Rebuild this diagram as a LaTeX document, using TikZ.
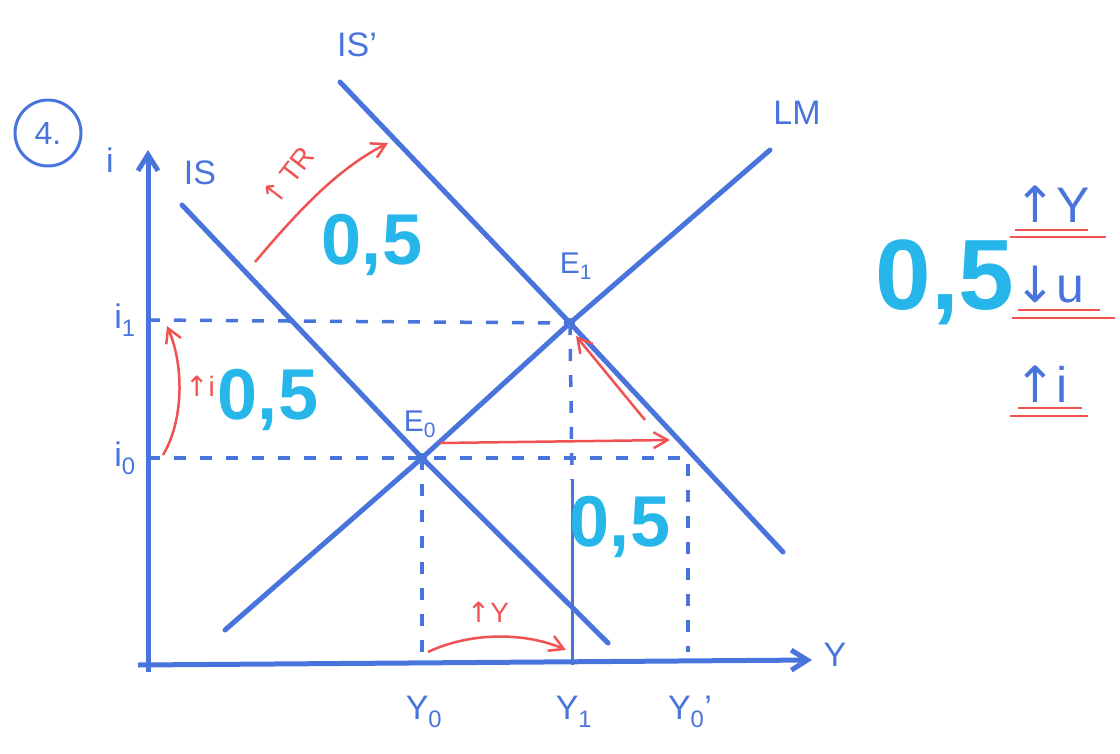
\documentclass[tikz,border=0pt]{standalone}
\usepackage{fontspec}
\setmainfont{Liberation Sans}
\newfontfamily\symf{DejaVu Sans}
\usetikzlibrary{arrows.meta}
\definecolor{pen}{RGB}{72,116,220}
\definecolor{cy}{RGB}{38,182,234}
\definecolor{rd}{RGB}{240,82,82}
\begin{document}
\begin{tikzpicture}[x=1pt,y=-1pt,
  curve/.style={pen,line width=5pt,line cap=round},
  axis/.style={pen,line width=5pt,-{Straight Barb[length=16pt,width=20pt]}},
  guide/.style={pen,line width=3.5pt,dash pattern=on 12pt off 14pt},
  thin/.style={pen,line width=3pt},
  redarrow/.style={rd,line width=2.5pt,-{Straight Barb[length=14pt,width=16pt]}},
  lab/.style={pen,font=\fontsize{34}{36}\selectfont},
  side/.style={pen,font=\fontsize{50}{52}\selectfont},
  redlab/.style={rd,font=\fontsize{28}{30}\selectfont,inner sep=1pt},
  big/.style={cy,font=\fontsize{72}{72}\selectfont\bfseries,inner sep=0pt},
  huge/.style={cy,font=\fontsize{100}{100}\selectfont\bfseries,inner sep=0pt},
  under/.style={rd,line width=2.5pt}]
\useasboundingbox (0,0) rectangle (1120,753);
% axes
\coordinate (ybot) at (148,672);
\coordinate (ytop) at (148,150);
\coordinate (xl) at (138,665);
\coordinate (xr) at (812,660);
\draw[axis] (ybot) -- (ytop);
\draw[axis] (xl) -- (xr);
\node[lab] (ilab) at (110,160) {i};
\node[lab] (Ylab) at (835,655) {Y};
\node[pen,draw,circle,line width=3pt,minimum size=66pt,font=\fontsize{32}{34}\selectfont] (num) at (48,133) {4.};
% equilibria
\coordinate (E0) at (422,458);
\coordinate (E1) at (570,323);
\coordinate (IStop) at (182,205);
\coordinate (ISbot) at (608,643);
\coordinate (ISptop) at (340,82);
\coordinate (ISpbot) at (783,552);
\coordinate (LMbot) at (225,630);
\coordinate (LMtop) at (770,150);
% guides
\coordinate (i1) at (148,320);
\coordinate (i0) at (148,458);
\coordinate (Y0) at (422,665);
\coordinate (Y1) at (572,665);
\coordinate (Y1m) at (572,480);
\coordinate (cr) at (688,458);
\coordinate (Y0p) at (688,652);
\draw[guide] (i1) -- (E1);
\draw[guide] (i0) -- (E0) -- (cr) -- (Y0p);
\draw[guide] (E0) -- (Y0);
\draw[guide] (E1) -- (Y1m);
\draw[thin] (Y1m) -- (Y1);
% curves
\draw[curve] (IStop) -- (E0) -- (ISbot);
\draw[curve] (ISptop) -- (E1) -- (ISpbot);
\draw[curve] (LMbot) -- (E0) -- (E1) -- (LMtop);
\fill[pen] (E0) circle (5pt);
\fill[pen] (E1) circle (5pt);
% labels
\node[lab] (ISl) at (200,173) {IS};
\node[lab] (ISpl) at (357,45) {IS'};
\node[lab] (LMl) at (797,113) {LM};
\node[lab,font=\fontsize{30}{32}\selectfont] (E0l) at (420,424) {E\textsubscript{0}};
\node[lab,font=\fontsize{30}{32}\selectfont] (E1l) at (576,266) {E\textsubscript{1}};
\node[lab] (i1l) at (125,320) {i\textsubscript{1}};
\node[lab] (i0l) at (125,458) {i\textsubscript{0}};
\node[lab] (Y0l) at (424,712) {Y\textsubscript{0}};
\node[lab] (Y1l) at (574,712) {Y\textsubscript{1}};
\node[lab] (Y0pl) at (690,712) {Y\textsubscript{0}'};
% cyan numbers
\node[big] (n1) at (372,245) {0,5};
\node[big] (n2) at (268,400) {0,5};
\node[big] (n3) at (620,527) {0,5};
\node[huge] (n4) at (945,282) {0,5};
% red arrows
\coordinate (tra) at (255,262);
\coordinate (trb) at (388,143);
\draw[redarrow] (tra) .. controls (295,215) and (335,170) .. (trb);
\node[redlab,rotate=52] (trl) at (288,176) {{\symf↑}\,TR};
\coordinate (ia) at (163,455);
\coordinate (ib) at (167,326);
\draw[redarrow] (ia) .. controls (184,420) and (184,365) .. (ib);
\node[redlab] (il) at (200,386) {{\symf↑}i};
\coordinate (ha) at (440,443);
\coordinate (hb) at (670,440);
\draw[redarrow] (ha) -- (hb);
\coordinate (da) at (645,420);
\coordinate (db) at (576,336);
\draw[redarrow] (da) -- (db);
\coordinate (ya) at (428,652);
\coordinate (yb) at (566,650);
\draw[redarrow] (ya) .. controls (470,632) and (525,632) .. (yb);
\node[redlab] (yl) at (488,612) {{\symf↑}Y};
% right panel
\node[side,anchor=base west,inner sep=0pt] (r1) at (1014,222) {{\symf↑}Y};
\node[side,anchor=base west,inner sep=0pt] (r2) at (1014,302) {{\symf↓}u};
\node[side,anchor=base west,inner sep=0pt] (r3) at (1014,402) {{\symf↑}i};
\coordinate (u1a) at (1015,230); \coordinate (u1b) at (1088,230);
\coordinate (u1c) at (1010,237); \coordinate (u1d) at (1106,237);
\coordinate (u2a) at (1018,310); \coordinate (u2b) at (1100,310);
\coordinate (u2c) at (1012,318); \coordinate (u2d) at (1115,318);
\coordinate (u3a) at (1018,408); \coordinate (u3b) at (1082,408);
\coordinate (u3c) at (1010,416); \coordinate (u3d) at (1088,416);
\draw[under] (u1a) -- (u1b); \draw[under] (u1c) -- (u1d);
\draw[under] (u2a) -- (u2b); \draw[under] (u2c) -- (u2d);
\draw[under] (u3a) -- (u3b); \draw[under] (u3c) -- (u3d);
\end{tikzpicture}
\end{document}
